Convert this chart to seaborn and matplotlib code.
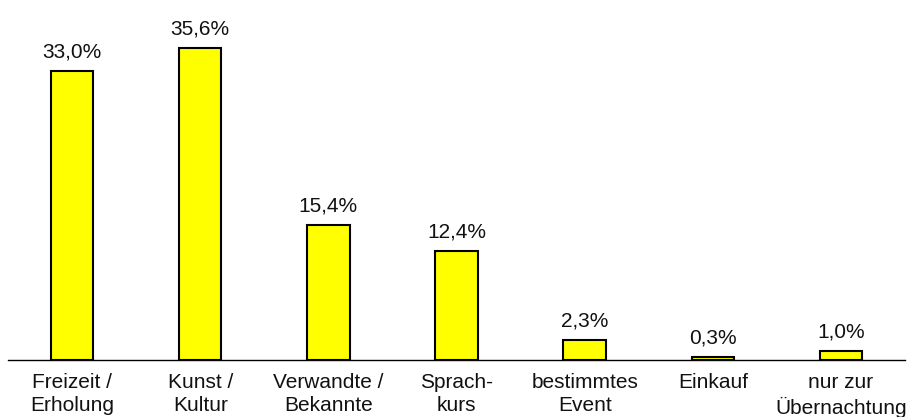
import matplotlib
matplotlib.use("Agg")
import matplotlib.pyplot as plt
import seaborn as sns
import pandas as pd

categories = ["Freizeit /\nErholung", "Kunst /\nKultur", "Verwandte /\nBekannte",
              "Sprach-\nkurs", "bestimmtes\nEvent", "Einkauf", "nur zur\nÜbernachtung"]
values = [33.0, 35.6, 15.4, 12.4, 2.3, 0.3, 1.0]
labels = ["33,0%", "35,6%", "15,4%", "12,4%", "2,3%", "0,3%", "1,0%"]

sns.set_theme(style="white")
plt.rcParams["font.family"] = ["Liberation Sans", "DejaVu Sans"]

df = pd.DataFrame({"cat": categories, "val": values})

fig = plt.figure(figsize=(9.08, 4.17), dpi=100)
ax = fig.add_axes([8 / 908, (417 - 360) / 417, 897 / 908, 360 / 417])

sns.barplot(data=df, x="cat", y="val", color="#ffff00", saturation=1,
            edgecolor="black", linewidth=1.5, width=0.33, ax=ax)

for i, (v, lab) in enumerate(zip(values, labels)):
    ax.annotate(lab, (i, v), xytext=(0, 7), textcoords="offset points",
                ha="center", va="bottom", fontsize=15, color="#111111")

ax.set_xlim(-0.5, 6.5)
ax.set_ylim(0, 360 / 8.76)
ax.set_xlabel("")
ax.set_ylabel("")
ax.set_yticks([])
ax.tick_params(axis="x", length=0, pad=9, labelsize=15, colors="#111111")
for t in ax.get_xticklabels():
    t.set_linespacing(1.3)
for s in ["top", "right", "left"]:
    ax.spines[s].set_visible(False)
ax.spines["bottom"].set_color("black")
ax.spines["bottom"].set_linewidth(1.0)

fig.savefig("out.png", dpi=100)
